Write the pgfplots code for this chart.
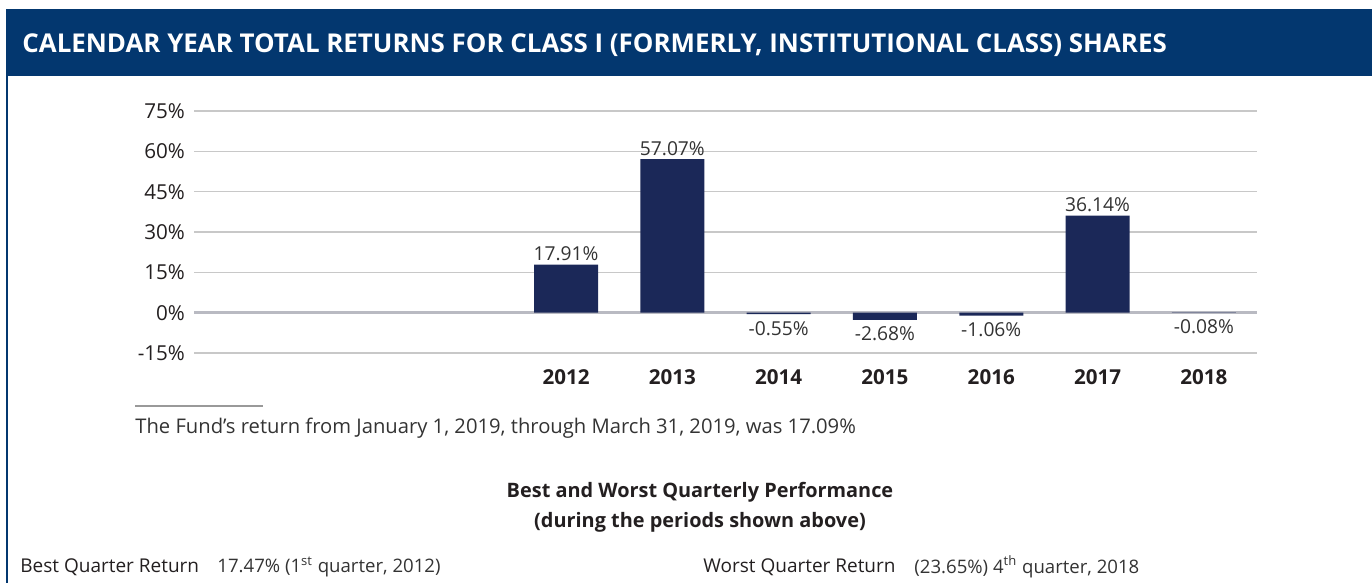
\documentclass[border=0pt]{standalone}
\usepackage{fontspec}
\setmainfont{Open Sans}
\usepackage{pgfplots}
\pgfplotsset{compat=1.18}
\definecolor{bannerblue}{HTML}{03376F}
\definecolor{barnavy}{HTML}{1B2858}
\definecolor{gridgray}{HTML}{C8C8C8}
\definecolor{zerogray}{HTML}{B9BAC2}
\definecolor{txt}{HTML}{231F20}
\definecolor{txtlight}{HTML}{333333}
\begin{document}
\begin{tikzpicture}
\begin{scope}[x=0.5pt,y=-0.5pt]
\path[use as bounding box] (0,0) rectangle (1372,583);
\fill[bannerblue] (6,9) rectangle (1372,76);
\node[anchor=west, text=white, font=\fontsize{12.95pt}{15pt}\selectfont\bfseries, inner sep=0pt] at (22,45) {CALENDAR YEAR TOTAL RETURNS FOR CLASS I (FORMERLY, INSTITUTIONAL CLASS) SHARES};
\draw[bannerblue, line width=0.75pt] (7,76) -- (7,583);
\draw[gray!80, line width=1pt] (135,406) -- (263,406);
\node[anchor=west, inner sep=0pt, text=txtlight, font=\fontsize{10.1pt}{12pt}\selectfont] at (135,428) {The Fund’s return from January 1, 2019, through March 31, 2019, was 17.09\%};
\node[inner sep=0pt, text=txt, font=\fontsize{9.95pt}{12pt}\selectfont\bfseries] at (700,492) {Best and Worst Quarterly Performance};
\node[inner sep=0pt, text=txt, font=\fontsize{9.95pt}{12pt}\selectfont\bfseries] at (700,522) {(during the periods shown above)};
\node[anchor=west, inner sep=0pt, text=txt, font=\fontsize{9.5pt}{12pt}\selectfont] at (20,567) {Best Quarter Return};
\node[anchor=west, inner sep=0pt, text=txtlight, font=\fontsize{9.3pt}{12pt}\selectfont] at (217,567) {17.47\% (1\textsuperscript{st} quarter, 2012)};
\node[anchor=west, inner sep=0pt, text=txt, font=\fontsize{9.5pt}{12pt}\selectfont] at (703,567) {Worst Quarter Return};
\node[anchor=west, inner sep=0pt, text=txtlight, font=\fontsize{9.3pt}{12pt}\selectfont] at (914,567) {(23.65\%) 4\textsuperscript{th} quarter, 2018};
\end{scope}
\begin{axis}[
  at={(97pt,-176.5pt)}, anchor=south west,
  scale only axis, width=531.5pt, height=121pt,
  xmin=2008.5, xmax=2018.5, ymin=-15, ymax=75,
  ybar, bar width=32pt, bar shift=0pt,
  axis line style={draw=none},
  major tick length=0pt,
  ytick={-15,0,15,30,45,60,75},
  yticklabel={\pgfmathprintnumber{\tick}\%},
  yticklabel style={font=\fontsize{10.3pt}{12pt}\selectfont, text=txt, xshift=-1pt},
  xtick={2012,2013,2014,2015,2016,2017,2018},
  xticklabels={2012,2013,2014,2015,2016,2017,2018},
  xticklabel style={font=\fontsize{10.3pt}{12pt}\selectfont\bfseries, text=txt, yshift=-4.5pt},
  ymajorgrids, grid style={gridgray, line width=0.75pt},
  extra y ticks={0}, extra y tick labels={},
  extra y tick style={grid style={zerogray, line width=1.5pt}},
  /pgf/number format/assume math mode=true,
  nodes near coords={\pgfmathprintnumber[fixed,precision=2,fixed zerofill]{\pgfplotspointmeta}\%},
  nodes near coords style={font=\fontsize{9.6pt}{11pt}\selectfont, text=txtlight},
  clip=false,
]
\addplot[fill=barnavy, draw=none, nodes near coords style={yshift=-1.8pt}] coordinates {
  (2012,17.91) (2013,57.07) (2017,36.14)
};
\addplot[fill=barnavy, draw=none] coordinates {
  (2014,-0.55) (2015,-2.68) (2016,-1.06) (2018,-0.08)
};
\end{axis}
\end{tikzpicture}
\end{document}
